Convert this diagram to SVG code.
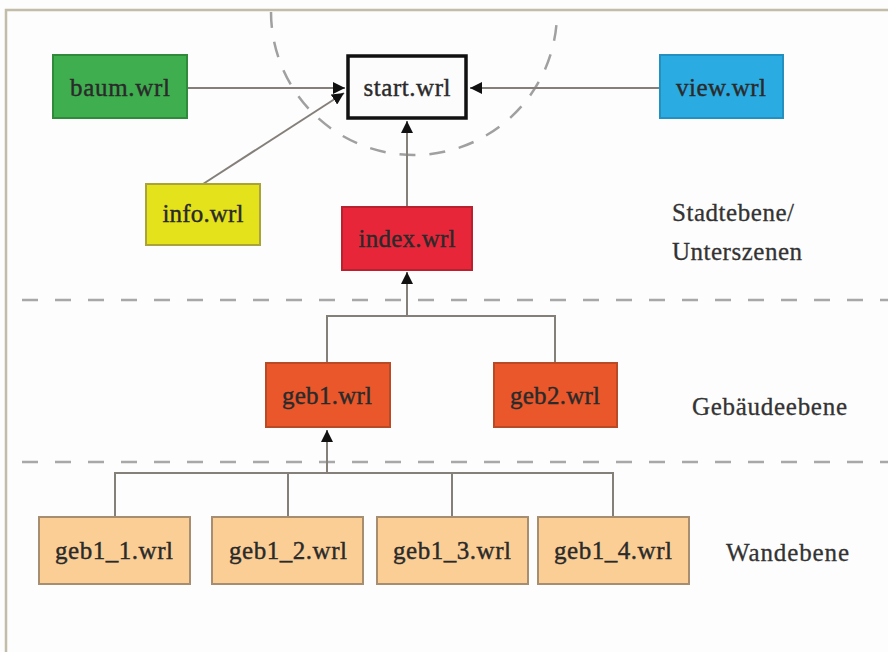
<svg xmlns="http://www.w3.org/2000/svg" width="888" height="652" viewBox="0 0 888 652">
<defs>
<style>
.frame{stroke:#c3bca9;stroke-width:2.5;fill:none}
.sep{stroke:#a8a8a8;stroke-width:2.5;fill:none;stroke-dasharray:16 17}
.arc{stroke:#a0a0a0;stroke-width:2.5;fill:none;stroke-dasharray:16 14}
.c{stroke:#857f7a;stroke-width:2;fill:none}
.lbl{font-family:"Liberation Serif","Times New Roman",serif;font-size:25px;fill:#2a2a2a;stroke:#2a2a2a;stroke-width:0.4;text-anchor:middle}
.side{font-family:"Liberation Serif","Times New Roman",serif;font-size:25px;fill:#333;stroke:#333;stroke-width:0.3}
</style>
<marker id="ah" viewBox="0 0 10 10" refX="10" refY="5" markerWidth="6" markerHeight="6" orient="auto" markerUnits="strokeWidth">
<path d="M0,0 L10,5 L0,10 z" fill="#111"/>
</marker>
</defs>
<rect x="0" y="0" width="888" height="652" fill="#fdfdfd"/>
<path class="frame" d="M6,652 V10 H888"/>
<path class="arc" d="M271,12 A142,142 0 0 0 557,12"/>
<path class="sep" d="M22,300 H888"/>
<path class="sep" d="M22,462 H888"/>
<g id="connectors">
<path class="c" d="M187,88 H345" marker-end="url(#ah)"/>
<path class="c" d="M660,88 H470" marker-end="url(#ah)"/>
<path class="c" d="M203,184 L344,93" marker-end="url(#ah)"/>
<path class="c" d="M407,206 V121" marker-end="url(#ah)"/>
<path class="c" d="M327,363 V316 H555 V363"/>
<path class="c" d="M407,316 V272" marker-end="url(#ah)"/>
<path class="c" d="M115,516 V473 H613 V516"/>
<path class="c" d="M288,516 V473"/>
<path class="c" d="M452,516 V473"/>
<path class="c" d="M327,473 V430" marker-end="url(#ah)"/>
</g>
<g id="baum"><rect x="53" y="55" width="134" height="63" fill="#3fae4f" stroke="#2f8a3c" stroke-width="2"/><text class="lbl" x="120" y="96" textLength="100">baum.wrl</text></g>
<g id="start"><rect x="348" y="56" width="118" height="62" fill="#fcfcfc" stroke="#111" stroke-width="3.5"/><text class="lbl" x="407" y="96" textLength="87">start.wrl</text></g>
<g id="view"><rect x="660" y="55" width="123" height="63" fill="#2aabe1" stroke="#2490bf" stroke-width="2"/><text class="lbl" x="721" y="96" textLength="90">view.wrl</text></g>
<g id="info"><rect x="146" y="184" width="114" height="61" fill="#e4e31b" stroke="#a9a33a" stroke-width="2"/><text class="lbl" x="203" y="222" textLength="81">info.wrl</text></g>
<g id="index"><rect x="342" y="207" width="130" height="63" fill="#e8263a" stroke="#b8222f" stroke-width="2"/><text class="lbl" x="407" y="247" textLength="97">index.wrl</text></g>
<g id="geb1"><rect x="266" y="363" width="124" height="64" fill="#e9572b" stroke="#b84a26" stroke-width="2"/><text class="lbl" x="327" y="404" textLength="90">geb1.wrl</text></g>
<g id="geb2"><rect x="494" y="363" width="123" height="64" fill="#e9572b" stroke="#b84a26" stroke-width="2"/><text class="lbl" x="555" y="404" textLength="90">geb2.wrl</text></g>
<g id="geb1_1"><rect x="39" y="517" width="151" height="67" fill="#fbce95" stroke="#a88e70" stroke-width="2"/><text class="lbl" x="114" y="559" textLength="118">geb1_1.wrl</text></g>
<g id="geb1_2"><rect x="212" y="517" width="151" height="67" fill="#fbce95" stroke="#a88e70" stroke-width="2"/><text class="lbl" x="288" y="559" textLength="118">geb1_2.wrl</text></g>
<g id="geb1_3"><rect x="377" y="517" width="151" height="67" fill="#fbce95" stroke="#a88e70" stroke-width="2"/><text class="lbl" x="452" y="559" textLength="118">geb1_3.wrl</text></g>
<g id="geb1_4"><rect x="538" y="517" width="151" height="67" fill="#fbce95" stroke="#a88e70" stroke-width="2"/><text class="lbl" x="613" y="559" textLength="118">geb1_4.wrl</text></g>
<g id="labels">
<text class="side" x="672" y="221" textLength="122">Stadtebene/</text>
<text class="side" x="672" y="260" textLength="130">Unterszenen</text>
<text class="side" x="692" y="415" textLength="155">Gebäudeebene</text>
<text class="side" x="726" y="561" textLength="123">Wandebene</text>
</g>
</svg>
